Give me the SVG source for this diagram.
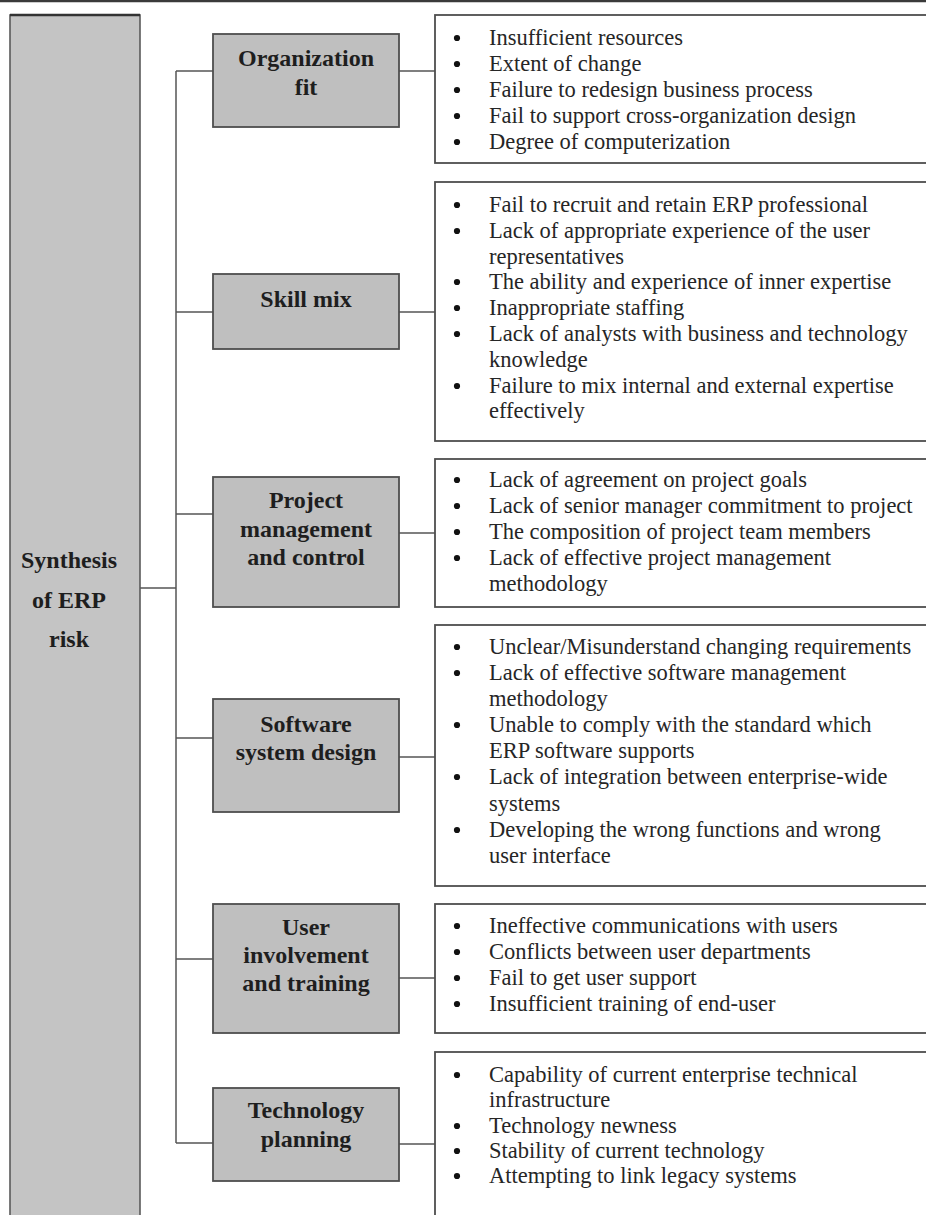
<svg xmlns="http://www.w3.org/2000/svg" width="926" height="1215" viewBox="0 0 926 1215">
<style>
.bg{fill:#ffffff}
.main{fill:#c4c4c4;stroke:#5a5a5a;stroke-width:1.6}
.cat{fill:#bfbfbf;stroke:#4e4e4e;stroke-width:1.8}
.list{fill:#ffffff;stroke:#4e4e4e;stroke-width:1.8}
.conn{stroke:#555;stroke-width:1.5;fill:none}
.ct{font-family:"Liberation Serif","Times New Roman",serif;font-weight:bold;font-size:24px;fill:#1e1e1e;text-anchor:middle}
.lt{font-family:"Liberation Serif","Times New Roman",serif;font-size:22.5px;fill:#262626}
.b{fill:#111}
</style>
<defs>
<circle id="dot" r="3.1" class="b"/>
</defs>
<rect class="bg" x="0" y="0" width="926" height="1215"/>
<line x1="0" y1="1" x2="926" y2="1" stroke="#3a3a3a" stroke-width="2.5"/>

<g id="connectors">
<line class="conn" x1="140" y1="588" x2="176" y2="588"/>
<line class="conn" x1="176" y1="71" x2="176" y2="1143"/>
<line class="conn" x1="176" y1="71" x2="213" y2="71"/>
<line class="conn" x1="399" y1="71" x2="435" y2="71"/>
<line class="conn" x1="176" y1="312" x2="213" y2="312"/>
<line class="conn" x1="399" y1="312" x2="435" y2="312"/>
<line class="conn" x1="176" y1="514" x2="213" y2="514"/>
<line class="conn" x1="399" y1="533" x2="435" y2="533"/>
<line class="conn" x1="176" y1="738" x2="213" y2="738"/>
<line class="conn" x1="399" y1="757" x2="435" y2="757"/>
<line class="conn" x1="176" y1="959" x2="213" y2="959"/>
<line class="conn" x1="399" y1="978" x2="435" y2="978"/>
<line class="conn" x1="176" y1="1143" x2="213" y2="1143"/>
<line class="conn" x1="399" y1="1144" x2="435" y2="1144"/>
</g>

<g id="root">
<rect class="main" x="10" y="15" width="130" height="1220"/>
<line x1="10" y1="15" x2="140" y2="15" stroke="#333" stroke-width="2.5"/>
<text class="ct" x="69" y="568">Synthesis</text>
<text class="ct" x="69" y="608">of ERP</text>
<text class="ct" x="69" y="647">risk</text>
</g>

<g id="org-fit">
<rect class="cat" x="213" y="34" width="186" height="93"/>
<text class="ct" x="306" y="66">Organization</text>
<text class="ct" x="306" y="95">fit</text>
</g>
<g id="org-fit-list">
<rect class="list" x="435" y="15" width="500" height="148"/>
<g class="lt">
<use href="#dot" x="457" y="38"/><text x="489" y="45">Insufficient resources</text>
<use href="#dot" x="457" y="64"/><text x="489" y="71">Extent of change</text>
<use href="#dot" x="457" y="90"/><text x="489" y="97">Failure to redesign business process</text>
<use href="#dot" x="457" y="116"/><text x="489" y="123">Fail to support cross-organization design</text>
<use href="#dot" x="457" y="142"/><text x="489" y="149">Degree of computerization</text>
</g>
</g>

<g id="skill-mix">
<rect class="cat" x="213" y="274" width="186" height="75"/>
<text class="ct" x="306" y="307">Skill mix</text>
</g>
<g id="skill-mix-list">
<rect class="list" x="435" y="182" width="500" height="259"/>
<g class="lt">
<use href="#dot" x="457" y="205"/><text x="489" y="212">Fail to recruit and retain ERP professional</text>
<use href="#dot" x="457" y="231"/><text x="489" y="238">Lack of appropriate experience of the user</text>
<text x="489" y="263.6">representatives</text>
<use href="#dot" x="457" y="282"/><text x="489" y="289.4">The ability and experience of inner expertise</text>
<use href="#dot" x="457" y="308"/><text x="489" y="315.2">Inappropriate staffing</text>
<use href="#dot" x="457" y="334"/><text x="489" y="341">Lack of analysts with business and technology</text>
<text x="489" y="366.8">knowledge</text>
<use href="#dot" x="457" y="386"/><text x="489" y="392.6">Failure to mix internal and external expertise</text>
<text x="489" y="418.4">effectively</text>
</g>
</g>

<g id="project-management">
<rect class="cat" x="213" y="477" width="186" height="130"/>
<text class="ct" x="306" y="508">Project</text>
<text class="ct" x="306" y="537">management</text>
<text class="ct" x="306" y="565">and control</text>
</g>
<g id="project-management-list">
<rect class="list" x="435" y="459" width="500" height="148"/>
<g class="lt">
<use href="#dot" x="457" y="480"/><text x="489" y="487">Lack of agreement on project goals</text>
<use href="#dot" x="457" y="506"/><text x="489" y="513">Lack of senior manager commitment to project</text>
<use href="#dot" x="457" y="532"/><text x="489" y="539">The composition of project team members</text>
<use href="#dot" x="457" y="558"/><text x="489" y="565">Lack of effective project management</text>
<text x="489" y="591">methodology</text>
</g>
</g>

<g id="software-design">
<rect class="cat" x="213" y="699" width="186" height="113"/>
<text class="ct" x="306" y="732">Software</text>
<text class="ct" x="306" y="760">system design</text>
</g>
<g id="software-design-list">
<rect class="list" x="435" y="625" width="500" height="261"/>
<g class="lt">
<use href="#dot" x="457" y="647"/><text x="489" y="654">Unclear/Misunderstand changing requirements</text>
<use href="#dot" x="457" y="673"/><text x="489" y="680">Lack of effective software management</text>
<text x="489" y="706">methodology</text>
<use href="#dot" x="457" y="725"/><text x="489" y="732">Unable to comply with the standard which</text>
<text x="489" y="758">ERP software supports</text>
<use href="#dot" x="457" y="777"/><text x="489" y="784">Lack of integration between enterprise-wide</text>
<text x="489" y="811">systems</text>
<use href="#dot" x="457" y="830"/><text x="489" y="837">Developing the wrong functions and wrong</text>
<text x="489" y="863">user interface</text>
</g>
</g>

<g id="user-involvement">
<rect class="cat" x="213" y="904" width="186" height="129"/>
<text class="ct" x="306" y="935">User</text>
<text class="ct" x="306" y="963">involvement</text>
<text class="ct" x="306" y="991">and training</text>
</g>
<g id="user-involvement-list">
<rect class="list" x="435" y="904" width="500" height="129"/>
<g class="lt">
<use href="#dot" x="457" y="926"/><text x="489" y="933">Ineffective communications with users</text>
<use href="#dot" x="457" y="952"/><text x="489" y="959">Conflicts between user departments</text>
<use href="#dot" x="457" y="978"/><text x="489" y="985">Fail to get user support</text>
<use href="#dot" x="457" y="1004"/><text x="489" y="1011">Insufficient training of end-user</text>
</g>
</g>

<g id="technology-planning">
<rect class="cat" x="213" y="1088" width="186" height="93"/>
<text class="ct" x="306" y="1118">Technology</text>
<text class="ct" x="306" y="1147">planning</text>
</g>
<g id="technology-planning-list">
<rect class="list" x="435" y="1052" width="500" height="200"/>
<g class="lt">
<use href="#dot" x="457" y="1075"/><text x="489" y="1082">Capability of current enterprise technical</text>
<text x="489" y="1107">infrastructure</text>
<use href="#dot" x="457" y="1126"/><text x="489" y="1133">Technology newness</text>
<use href="#dot" x="457" y="1151"/><text x="489" y="1158">Stability of current technology</text>
<use href="#dot" x="457" y="1176"/><text x="489" y="1183">Attempting to link legacy systems</text>
</g>
</g>
</svg>
